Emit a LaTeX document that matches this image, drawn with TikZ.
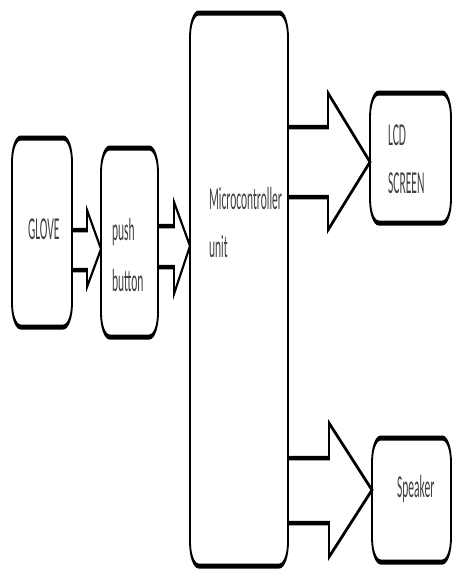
\documentclass[tikz,border=0pt]{standalone}
\usepackage{fontspec}
\setmainfont{Carlito}
\begin{document}
\begin{tikzpicture}[x=1pt,y=-1pt]
\useasboundingbox[fill=white] (0,0) rectangle (454,571);
\begin{scope}[transform canvas={xscale=0.36}, x=2.7778pt, y=-1pt,
  box/.style={draw=black, line width=5pt, rounded corners=24pt, inner sep=0pt, outer sep=0pt},
  blockarrow/.style={draw=black, line width=4.5pt, line join=miter},
  lbl/.style={font=\fontsize{32}{40}\selectfont, text=black!75, inner sep=0pt, anchor=base west}]
  % boxes
  \node[box, minimum width=166.7pt, minimum height=189pt] (glove) at (42,232.5) {};
  \node[box, minimum width=158.3pt, minimum height=189pt] (push) at (129.5,242.5) {};
  \node[box, minimum width=272.2pt, minimum height=553pt] (mcu) at (239,289.5) {};
  \node[box, minimum width=225pt, minimum height=130pt] (lcd) at (410.5,158) {};
  \node[box, minimum width=219.4pt, minimum height=124pt] (spk) at (411.5,500) {};
  % labels
  \node[lbl] (tglove) at (28,239) {GLOVE};
  \node[lbl] (tpush1) at (112,240) {push};
  \node[lbl] (tpush2) at (112,291) {button};
  \node[lbl] (tmcu1) at (209,209) {Microcontroller};
  \node[lbl] (tmcu2) at (209,257) {unit};
  \node[lbl] (tlcd1) at (388,145) {LCD};
  \node[lbl] (tlcd2) at (388,193) {SCREEN};
  \node[lbl] (tspk) at (397,497) {Speaker};
  % block arrows
  \draw[blockarrow] (glove.east |- 0,230) -- (87,230) -- (87,210) -- (push.west |- 0,249)
     -- (87,287) -- (87,270) -- (glove.east |- 0,270);
  \draw[blockarrow] (push.east |- 0,226) -- (174,226) -- (174,202) -- (mcu.west |- 0,246)
     -- (174,294) -- (174,267) -- (push.east |- 0,267);
  \draw[blockarrow] (mcu.east |- 0,127) -- (328,127) -- (328,93) -- (lcd.west |- 0,162)
     -- (328,230) -- (328,197) -- (mcu.east |- 0,197);
  \draw[blockarrow] (mcu.east |- 0,458) -- (329,458) -- (329,423) -- (spk.west |- 0,490)
     -- (329,557) -- (329,523) -- (mcu.east |- 0,523);
\end{scope}
\end{tikzpicture}
\end{document}
